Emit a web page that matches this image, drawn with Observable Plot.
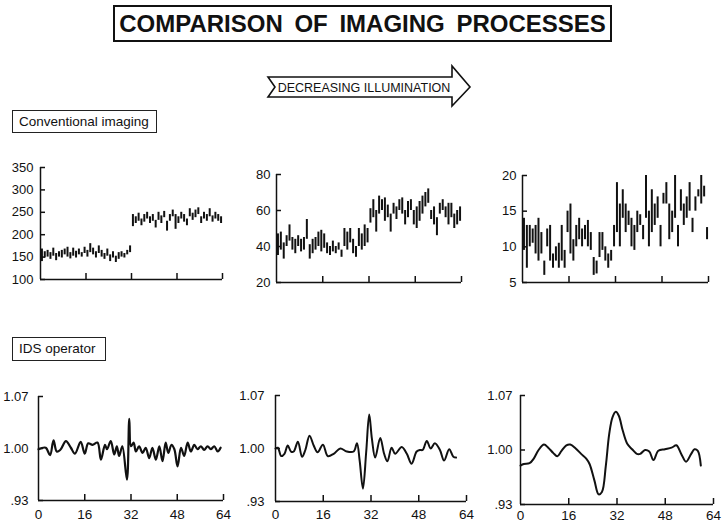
<!DOCTYPE html>
<html><head><meta charset="utf-8">
<script src="https://cdn.jsdelivr.net/npm/d3@7"></script>
<script src="https://cdn.jsdelivr.net/npm/@observablehq/plot@0.6"></script>
<style>
html,body{margin:0;padding:0;background:#fff;overflow:hidden;}
#page{position:relative;width:723px;height:524px;background:#fff;font-family:"Liberation Sans",Arial,sans-serif;color:#111;overflow:hidden;}
#title{position:absolute;left:113px;top:5px;width:495px;height:33px;border:2px solid #111;font-weight:bold;font-size:24px;line-height:34px;text-align:center;word-spacing:5px;white-space:nowrap;}
.lab{position:absolute;border:1px solid #222;font-size:13.5px;line-height:21px;padding-left:6px;box-sizing:border-box;white-space:nowrap;}
#arrow{position:absolute;left:255px;top:60px;}
svg.panel{position:absolute;overflow:visible;}
</style></head>
<body><div id="page">
<div id="title">COMPARISON OF IMAGING PROCESSES</div>
<svg id="arrow" width="225" height="52" viewBox="255 60 225 52">
  <polygon points="268,77 452,77 452,66 470,87 452,106 452,97 268,97 275,87" fill="#fff" stroke="#111" stroke-width="1.6" stroke-linejoin="miter"/>
  <text x="364" y="91.5" text-anchor="middle" font-size="12.5" font-family="Liberation Sans, Arial, sans-serif" fill="#111">DECREASING ILLUMINATION</text>
</svg>
<div class="lab" style="left:12px;top:110px;width:145px;height:23px;">Conventional imaging</div>
<div class="lab" style="left:12px;top:337px;width:94px;height:24px;">IDS operator</div>
</div>
<script>
// ---------- data ----------
// Conventional imaging: per-sample vertical dash extents (low / high)
const aLo = [140,148,150,145,152,142,150,148,155,150,146,152,148,155,150,158,150,160,155,148,158,150,145,152,140,148,138,145,150,148,155,160,218,225,230,220,228,235,225,230,215,232,225,238,208,230,240,212,225,235,228,220,240,232,238,245,225,235,230,240,228,235,230,225];
const aHi = [168,162,165,160,170,158,162,165,168,172,160,170,163,168,160,172,165,180,170,162,175,165,158,168,155,162,152,160,162,158,165,175,245,240,248,235,245,250,240,245,232,250,242,252,230,245,255,245,240,250,245,235,258,248,255,260,240,250,245,258,242,250,245,240];
const bLo = [35,38,33,40,43,38,36,40,37,38,44,33,36,38,40,37,39,36,35,37,36,38,34,40,38,42,36,34,40,38,40,42,53,56,48,58,60,54,56,48,58,55,60,58,52,56,60,52,50,54,58,62,64,55,52,46,58,60,56,52,56,50,52,54];
const bHi = [47,48,42,46,52,45,44,46,44,45,55,41,44,45,48,49,47,42,40,43,40,42,38,50,48,50,44,40,50,47,52,50,61,66,60,68,66,67,63,58,64,62,66,67,60,65,66,60,62,65,68,70,72,60,62,56,64,66,62,64,64,58,60,62];
const cLo = [9.5,7,10,10.5,9,8,9,6,10,8,7,8,7,8,7,12,9,8,10,11,10,11,10,9.5,6,6.2,8.5,9.5,8,7,8,10,12,10,14,12,13,10,9.5,12,13,11,14,10,12,13,14,10,16,16,11,12,14,10,15,13,14,15,12,15,17,16,17,11];
const cHi = [14,13,13,12.5,13,14,12,8,12.5,13,9,10,10.5,13,9.5,15,16,11,13,14,12.5,13,13.7,12,8.5,8,12,12,10,9,9.5,13,19,16,18,16,15,14,13,15,14.5,13,20,15,18,16,17,13,17.5,19,16,15,20,13,18,16,17,19,14,17,18,20,18.5,12.7];

// IDS operator curves
const dX = [0,2.5,4,5.2,6.3,7.5,9.5,11.2,12.6,14.6,16,17.2,18.7,20.4,21.6,23,23.7,25,26.2,27.1,27.9,29,30.6,31.4,32,32.9,33.7,34.8,36,37.1,38.3,39.4,40.6,41.8,42.9,44,44.9,46,47,48.1,49.3,50.4,51.6,52.7,53.9,55,56.2,57.3,58.5,59.6,60.8,62,63];
const dY = [0.999,1.001,0.991,1.011,0.996,0.998,1.010,1.001,0.993,1.009,0.993,1.007,1.005,1.008,0.985,1.005,0.999,1.010,0.992,1.003,0.990,1.003,0.958,1.040,1.003,1.008,0.996,1.003,0.994,1.001,0.987,1.001,0.985,1.003,0.983,1.008,0.994,1.005,0.999,0.976,1.001,0.990,1.008,0.996,1.005,0.999,1.003,0.998,1.003,0.999,1.003,0.996,1.001];
const eX = [0,0.8,1.9,3,4.1,5.2,6.1,7.5,8.9,10,11.4,12.8,14.1,15.9,17.5,19.5,21.7,23.9,26.2,27.3,28.2,29.3,30.4,31.4,32.3,33.4,35.1,36.4,37.5,38.9,40.1,42.3,44,45.6,47.3,48.4,49.3,50.7,52,53.4,55.1,56.5,58.2,59.6,60.5];
const eY = [1.000,1.001,0.990,0.993,1.004,0.996,0.996,1.009,0.989,0.998,1.017,1.004,0.995,1.005,0.990,0.993,1.000,0.996,0.996,1.007,0.984,0.947,0.996,1.045,1.013,0.988,1.014,0.993,0.983,1.001,0.993,1.002,0.993,0.980,0.996,0.998,0.998,1.010,1.000,1.007,0.998,0.984,0.999,0.989,0.988];
const fX = [0,1.1,3,4.4,6,7.8,9.2,10.9,12.2,13.6,15.2,16.5,18.3,20.1,21.8,22.9,24.5,25.9,27,28.3,29.4,30.5,31.6,32.6,33.9,35.4,37,38.6,39.7,41.3,42.7,44.1,45.7,47.9,50.1,51.7,53.3,54.9,56.6,57.7,58.8,59.8];
const fY = [0.980,0.982,0.983,0.989,1.000,1.007,1.003,0.996,0.992,0.999,1.006,1.007,1.002,0.995,0.989,0.982,0.961,0.943,0.946,0.980,1.020,1.042,1.049,1.044,1.025,1.008,1.001,0.995,0.995,1.000,0.998,0.987,0.999,1.001,1.003,1.006,0.995,0.985,0.995,1.001,0.999,0.980];

// axes / ticks
const xTicks = [0,16,32,48,64];
const topXTicks = [16,32,48,64];
const aTicks = [100,150,200,250,300,350];
const bTicks = [20,40,60,80];
const cTicks = [5,10,15,20];
const idsTicks = [0.93,1.00,1.07];
const idsFormat = d => d === 0.93 ? ".93" : d.toFixed(2);

// ---------- drawing ----------
const page = document.getElementById("page");
const INK = "#111";

function panel(frame, opt) {
  const mL = 45, mT = 14, mR = opt.mR ?? 12, mB = 28;
  const w = frame.right - frame.left, h = frame.bottom - frame.top;
  const [y0, y1] = opt.yDomain;
  const marks = [
    Plot.ruleX([0], {x: d => d, y1: () => y0, y2: () => y1, stroke: INK, strokeWidth: 1.5}),
    Plot.ruleY([y0], {y: d => d, x1: () => 0, x2: () => 64, stroke: INK, strokeWidth: 1.5}),
    Plot.tickY(opt.yTicks, {y: d => d, insetRight: w - 5, stroke: INK, strokeWidth: 1.5}),
    Plot.tickX(opt.xTicks, {x: d => d, insetTop: h - 6, stroke: INK, strokeWidth: 1.5}),
    Plot.axisY(opt.yTicks, {tickSize: 0, tickPadding: opt.yPad, tickFormat: opt.yFormat, fontSize: opt.fontSize, fill: INK}),
    ...opt.marks
  ];
  if (opt.xLabels) marks.push(Plot.axisX(opt.xLabels, {tickSize: 0, tickPadding: opt.xPad, fontSize: 13.5, fill: INK}));
  const svg = Plot.plot({
    width: w + mL + mR, height: h + mT + mB,
    marginLeft: mL, marginRight: mR, marginTop: mT, marginBottom: mB,
    x: {domain: [0, 64], ...(opt.xLabels ? {} : {axis: null})},
    y: {domain: opt.yDomain},
    style: {fontFamily: "Liberation Sans, Arial, sans-serif", background: "transparent", overflow: "visible", color: INK},
    marks
  });
  svg.classList.add("panel");
  svg.style.left = (frame.left - mL) + "px";
  svg.style.top = (frame.top - mT) + "px";
  page.appendChild(svg);
}

function dashes(lo, hi) {
  return Plot.ruleX(lo.map((v, i) => i), {x: i => i + 0.5, y1: i => lo[i], y2: i => hi[i], stroke: INK, strokeWidth: 2});
}
function curve(xs, ys, sw) {
  return Plot.line(xs.map((x, i) => i), {x: i => xs[i], y: i => ys[i], curve: "catmull-rom", stroke: INK, strokeWidth: sw});
}

panel({left: 40, right: 222, top: 167, bottom: 279},
  {yDomain: [100, 350], yTicks: aTicks, xTicks: topXTicks, yPad: 7, fontSize: 13, marks: [dashes(aLo, aHi)]});
panel({left: 276, right: 461, top: 174, bottom: 282},
  {yDomain: [20, 80], yTicks: bTicks, xTicks: topXTicks, yPad: 6, fontSize: 13, marks: [dashes(bLo, bHi)]});
panel({left: 522, right: 708, top: 175, bottom: 282},
  {yDomain: [5, 20], yTicks: cTicks, xTicks: topXTicks, yPad: 6, fontSize: 13, mR: 8, marks: [dashes(cLo, cHi)]});

panel({left: 38, right: 223, top: 396, bottom: 500},
  {yDomain: [0.93, 1.07], yTicks: idsTicks, yFormat: idsFormat, xTicks: topXTicks, xLabels: xTicks, xPad: 9, yPad: 10, fontSize: 13, marks: [curve(dX, dY, 2.2)]});
panel({left: 275, right: 466, top: 395, bottom: 501},
  {yDomain: [0.93, 1.07], yTicks: idsTicks, yFormat: idsFormat, xTicks: topXTicks, xLabels: xTicks, xPad: 8, yPad: 11, fontSize: 13, marks: [curve(eX, eY, 2)]});
panel({left: 520, right: 713, top: 395, bottom: 504},
  {yDomain: [0.93, 1.07], yTicks: idsTicks, yFormat: idsFormat, xTicks: topXTicks, xLabels: xTicks, xPad: 6, yPad: 8, fontSize: 13, mR: 6, marks: [curve(fX, fY, 2)]});
</script>
</body></html>
